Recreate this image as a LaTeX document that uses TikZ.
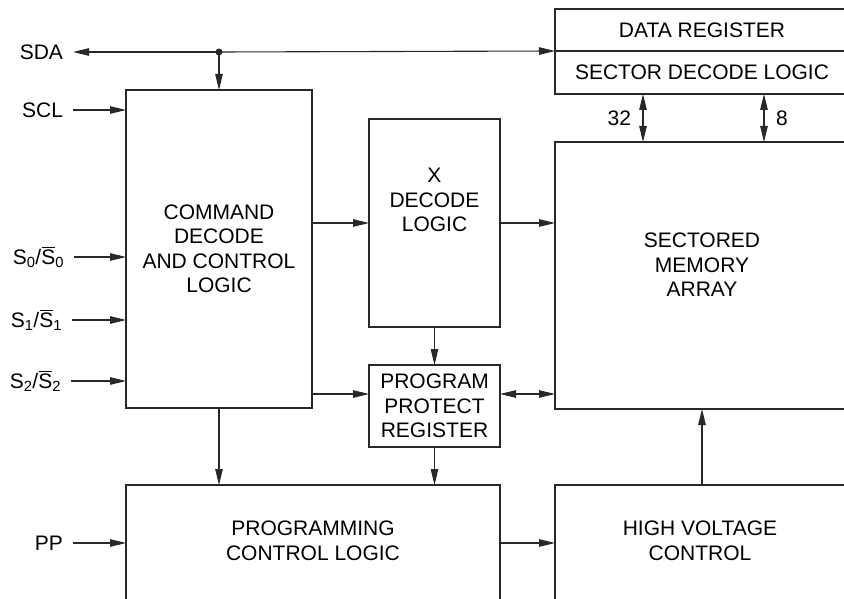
\documentclass[tikz,border=0pt]{standalone}
\usepackage{fontspec}
\setmainfont{Liberation Sans}
\usetikzlibrary{arrows.meta,calc}
\newcommand{\barS}{\leavevmode\rlap{\kern0.6pt\rule[16.8pt]{12.8pt}{1.1pt}}S}
\definecolor{linec}{RGB}{40,40,40}
\begin{document}
\begin{tikzpicture}[x=1pt,y=-1pt,
  box/.style={draw=linec, line width=1.1pt, inner sep=0pt, outer sep=0pt, anchor=north west},
  txt/.style={font=\fontsize{21}{24.5}\selectfont, align=center, inner sep=0pt, text=black},
  lab/.style={font=\fontsize{21}{24.5}\selectfont, inner sep=0pt, text height=15pt, text depth=0pt, outer xsep=10pt, anchor=east},
  arr/.style={-{Triangle[length=16pt,width=7.5pt]}, line width=1.1pt, draw=linec},
  darr/.style={{Triangle[length=16pt,width=7.5pt]}-{Triangle[length=16pt,width=7.5pt]}, line width=1.1pt, draw=linec}]
\useasboundingbox (0,0) rectangle (844,599);
\clip (0,0) rectangle (844,599);
% boxes
\node[box, txt, minimum width=186pt, minimum height=318pt] (cmd) at (126,90) {COMMAND\\DECODE\\AND CONTROL\\LOGIC};
\node[box, minimum width=131pt, minimum height=208pt] (xdec) at (369,119) {};
\node[txt] (xdect) at (434.5,200) {X\\DECODE\\LOGIC};
\node[box, txt, minimum width=131pt, minimum height=82pt] (ppr) at (369,365) {PROGRAM\\PROTECT\\REGISTER};
\node[box, minimum width=294pt, minimum height=267pt] (mem) at (555,142) {};
\node[txt] (memt) at (702,265) {SECTORED\\MEMORY\\ARRAY};
\node[box, txt, minimum width=294pt, minimum height=42pt] (dr) at (555,9) {DATA REGISTER};
\node[box, txt, minimum width=294pt, minimum height=43pt] (sdl) at (555,51) {SECTOR DECODE LOGIC};
\node[box, minimum width=374pt, minimum height=140pt] (prog) at (126,485) {};
\node[txt] (progt) at (313,541) {PROGRAMMING\\CONTROL LOGIC};
\node[box, minimum width=294pt, minimum height=140pt] (hv) at (555,485) {};
\node[txt] (hvt) at (700,541) {HIGH VOLTAGE\\CONTROL};
% labels
\node[lab] (sda) at (73,52) {SDA};
\node[lab] (scl) at (73,110) {SCL};
\node[lab] (s0) at (74,257) {S\textsubscript{0}/\barS\textsubscript{0}};
\node[lab] (s1) at (72,320) {S\textsubscript{1}/\barS\textsubscript{1}};
\node[lab] (s2) at (71,381) {S\textsubscript{2}/\barS\textsubscript{2}};
\node[lab] (pp) at (73,543) {PP};
\node[lab, outer xsep=12pt] (n32) at (643,118) {32};
\node[lab, outer xsep=12pt, anchor=west] (n8) at (764,118) {8};
% connectors
\coordinate (dot) at (219,52);
\fill[linec] (dot) circle (3.5pt);
\draw[arr] (dot) -- (sda.east);
\draw[arr] (dot) -- (dr.south west);
\draw[arr] (dot) -- (dot |- cmd.north);
\draw[arr] (scl.east) -- (scl.east -| cmd.west);
\draw[arr] (s0.east) -- (s0.east -| cmd.west);
\draw[arr] (s1.east) -- (s1.east -| cmd.west);
\draw[arr] (s2.east) -- (s2.east -| cmd.west);
\draw[arr] (pp.east) -- (pp.east -| prog.west);
\draw[arr] (cmd.east |- xdec.west) -- (xdec.west);
\draw[arr] (xdec.east) -- (xdec.east -| mem.west);
\draw[arr] (xdec.south) -- (ppr.north);
\coordinate (pprin) at ([yshift=12pt]ppr.west);
\coordinate (pprout) at ([yshift=12pt]ppr.east);
\draw[arr] (cmd.east |- pprin) -- (pprin);
\draw[darr] (pprout) -- (pprout -| mem.west);
\draw[arr] (cmd.south) -- (cmd.south |- prog.north);
\draw[arr] (ppr.south) -- (ppr.south |- prog.north);
\draw[arr] (pp.east -| prog.east) -- (pp.east -| hv.west);
\draw[arr] (hv.north) -- (hv.north |- mem.south);
\draw[darr] (n32.east |- sdl.south) -- (n32.east |- mem.north);
\draw[darr] (n8.west |- sdl.south) -- (n8.west |- mem.north);
\end{tikzpicture}
\end{document}
